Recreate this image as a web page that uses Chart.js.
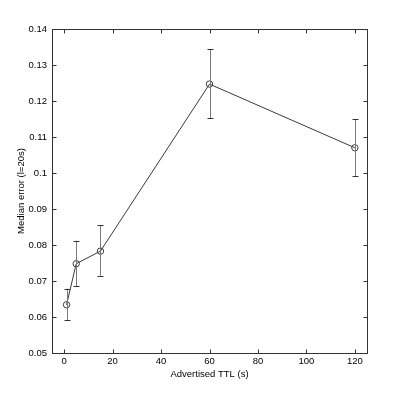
<!DOCTYPE html>
<html><head><meta charset="utf-8">
<script src="https://cdn.jsdelivr.net/npm/chart.js@4/dist/chart.umd.min.js"></script>
<style>html,body{margin:0;padding:0;background:#fff}#wrap{width:405px;height:397px}</style>
</head><body><div id="wrap"><canvas id="c" width="405" height="397"></canvas></div>
<script>
const ttl = [1, 5, 15, 60, 120];
const medianErr = [0.0634, 0.0748, 0.0783, 0.1247, 0.1070];
const errLow = [0.0591, 0.0686, 0.0715, 0.1153, 0.0992];
const errHigh = [0.0679, 0.0812, 0.0855, 0.1344, 0.1150];
const xTicks = [0, 20, 40, 60, 80, 100, 120];
const yTicks = [0.05, 0.06, 0.07, 0.08, 0.09, 0.10, 0.11, 0.12, 0.13, 0.14];

const FONT = {family: '"Liberation Sans", Arial, sans-serif', size: 9.5};

const boxPlugin = {
  id: 'box',
  afterDatasetsDraw(chart) {
    const ctx = chart.ctx, a = chart.chartArea;
    const xs = chart.scales.x, ys = chart.scales.y;
    ctx.save();
    ctx.lineWidth = 1;
    for (let i = 0; i < ttl.length; i++) {
      const px = Math.round(xs.getPixelForValue(ttl[i])) + 0.5;
      const lo = ys.getPixelForValue(errLow[i]);
      const hi = ys.getPixelForValue(errHigh[i]);
      ctx.strokeStyle = '#7a7a7a';
      ctx.beginPath();
      ctx.moveTo(px, lo); ctx.lineTo(px, hi);
      ctx.stroke();
      ctx.strokeStyle = '#333';
      ctx.beginPath();
      ctx.moveTo(px - 3, Math.round(lo) + 0.5); ctx.lineTo(px + 3, Math.round(lo) + 0.5);
      ctx.moveTo(px - 3, Math.round(hi) + 0.5); ctx.lineTo(px + 3, Math.round(hi) + 0.5);
      ctx.stroke();
    }
    ctx.strokeStyle = '#333';
    const L = Math.round(a.left) + 0.5, R = Math.round(a.right) + 0.5;
    const T = Math.round(a.top) + 0.5, B = Math.round(a.bottom) + 0.5;
    ctx.strokeRect(L, T, R - L, B - T);
    ctx.beginPath();
    xTicks.forEach(v => {
      const p = Math.round(xs.getPixelForValue(v)) + 0.5;
      ctx.moveTo(p, B); ctx.lineTo(p, B - 4);
      ctx.moveTo(p, T); ctx.lineTo(p, T + 4);
    });
    yTicks.forEach(v => {
      const p = Math.round(ys.getPixelForValue(v)) + 0.5;
      ctx.moveTo(L, p); ctx.lineTo(L + 4, p);
      ctx.moveTo(R, p); ctx.lineTo(R - 4, p);
    });
    ctx.stroke();
    ctx.restore();
  }
};

new Chart(document.getElementById('c'), {
  type: 'scatter',
  data: {
    datasets: [{
      data: ttl.map((x, i) => ({x: x, y: medianErr[i]})),
      showLine: true,
      borderColor: '#3a3a3a',
      borderWidth: 1,
      pointRadius: 3.2,
      pointBackgroundColor: 'rgba(0,0,0,0)',
      pointBorderColor: '#3a3a3a',
      pointBorderWidth: 1,
      tension: 0
    }]
  },
  plugins: [boxPlugin],
  options: {
    responsive: false,
    animation: false,
    devicePixelRatio: 1,
    layout: {padding: {top: 29, right: 38, left: 12, bottom: 13}},
    plugins: {legend: {display: false}, tooltip: {enabled: false}},
    scales: {
      x: {
        type: 'linear', min: -5, max: 125,
        afterBuildTicks: s => { s.ticks = xTicks.map(v => ({value: v})); },
        afterFit: s => { s.height = 31; },
        grid: {display: false, drawTicks: false},
        border: {display: false},
        ticks: {color: '#000', font: FONT, padding: 3, maxRotation: 0},
        title: {display: true, text: 'Advertised TTL (s)', color: '#000', font: FONT, padding: {top: 2}}
      },
      y: {
        type: 'linear', min: 0.05, max: 0.14,
        afterBuildTicks: s => { s.ticks = yTicks.map(v => ({value: v})); },
        afterFit: s => { s.width = 40; },
        grid: {display: false, drawTicks: false},
        border: {display: false},
        ticks: {color: '#000', font: FONT, padding: 5,
          callback: v => String(Number(v.toFixed(2)))},
        title: {display: true, text: 'Median error (l=20s)', color: '#000', font: FONT, padding: {bottom: 6}}
      }
    }
  }
});
</script></body></html>
